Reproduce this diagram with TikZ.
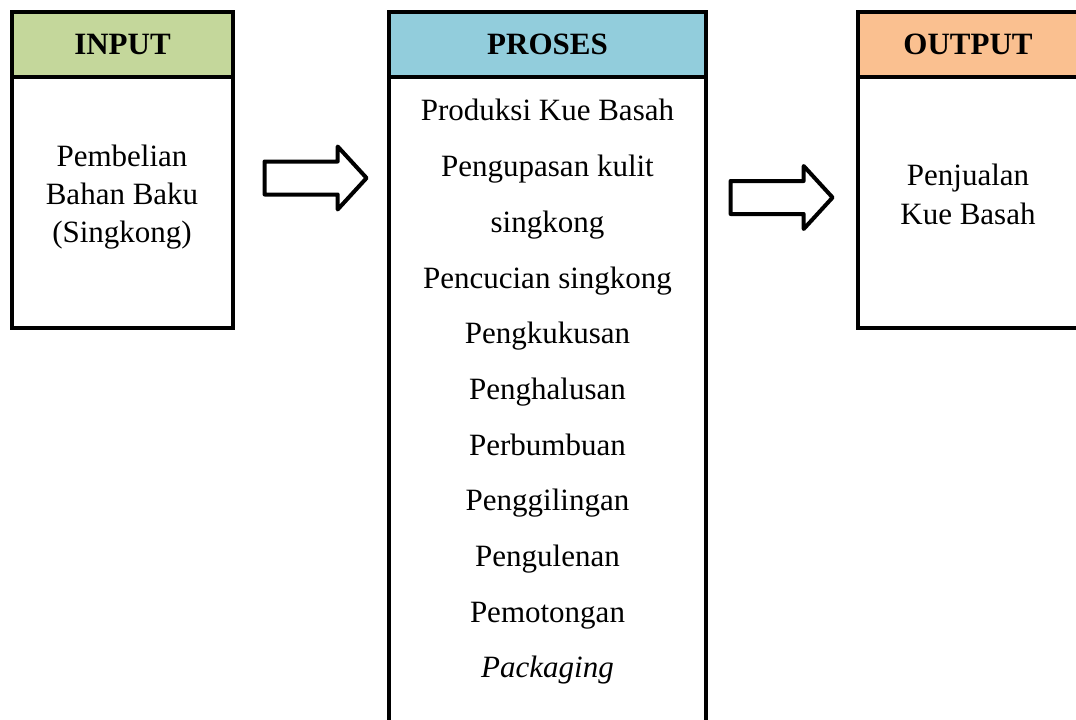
\documentclass[tikz,border=0pt]{standalone}
\usepackage{fontspec}
\setmainfont{Liberation Serif}
\usetikzlibrary{positioning,shapes.arrows}
\definecolor{inputgreen}{HTML}{C4D79B}
\definecolor{prosesblue}{HTML}{92CDDC}
\definecolor{outputorange}{HTML}{FAC090}
\tikzset{
  headbox/.style={draw=black, line width=4pt, outer sep=0pt, inner sep=0pt, minimum height=65pt, font=\fontsize{31}{37}\selectfont\bfseries},
  bodybox/.style={draw=black, line width=4pt, outer sep=0pt, inner sep=0pt},
  bodytext/.style={align=center, inner sep=0pt, font=\fontsize{31}{38}\selectfont},
  bigarrow/.style={draw=black, line width=4pt, line join=round, fill=white, single arrow, inner xsep=0pt, inner ysep=14.5pt,
    single arrow head extend=15pt, single arrow tip angle=95, minimum height=102pt, minimum width=0pt}
}
\begin{document}
\begin{tikzpicture}[x=1pt,y=-1pt]
\useasboundingbox (0,0) rectangle (1076,720);
\clip (0,0) rectangle (1076,720);

% input
\node[headbox, fill=inputgreen, minimum width=221pt] (inhead) at (122.5,44.5) {INPUT};
\node[bodybox, minimum width=221pt, minimum height=251pt, below=0pt of inhead] (inbody) {};
\node[bodytext] (intext) at (122,197) {Pembelian\\Bahan Baku\\(Singkong)};

% proses
\node[headbox, fill=prosesblue, minimum width=317pt] (prhead) at (547.5,44.5) {PROSES};
\node[bodybox, minimum width=317pt, minimum height=683pt, below=0pt of prhead] (prbody) {};
\node[bodytext, font=\fontsize{31}{55.7}\selectfont] (prtext) at (547.5,392) {Produksi Kue Basah\\Pengupasan kulit\\singkong\\Pencucian singkong\\Pengkukusan\\Penghalusan\\Perbumbuan\\Penggilingan\\Pengulenan\\Pemotongan\\\textit{Packaging}};

% output
\node[headbox, fill=outputorange, minimum width=262pt] (outhead) at (989,44.5) {};
\node[font=\fontsize{31}{37}\selectfont\bfseries] (outlabel) at (968,44.5) {OUTPUT};
\node[bodybox, minimum width=262pt, minimum height=251pt, below=0pt of outhead] (outbody) {};
\node[bodytext, font=\fontsize{31}{39}\selectfont] (outtext) at (968,194) {Penjualan\\Kue Basah};

% panah
\node[bigarrow] (arr1) at (308,178) {};
\node[bigarrow] (arr2) at (774,197.5) {};
\end{tikzpicture}
\end{document}
